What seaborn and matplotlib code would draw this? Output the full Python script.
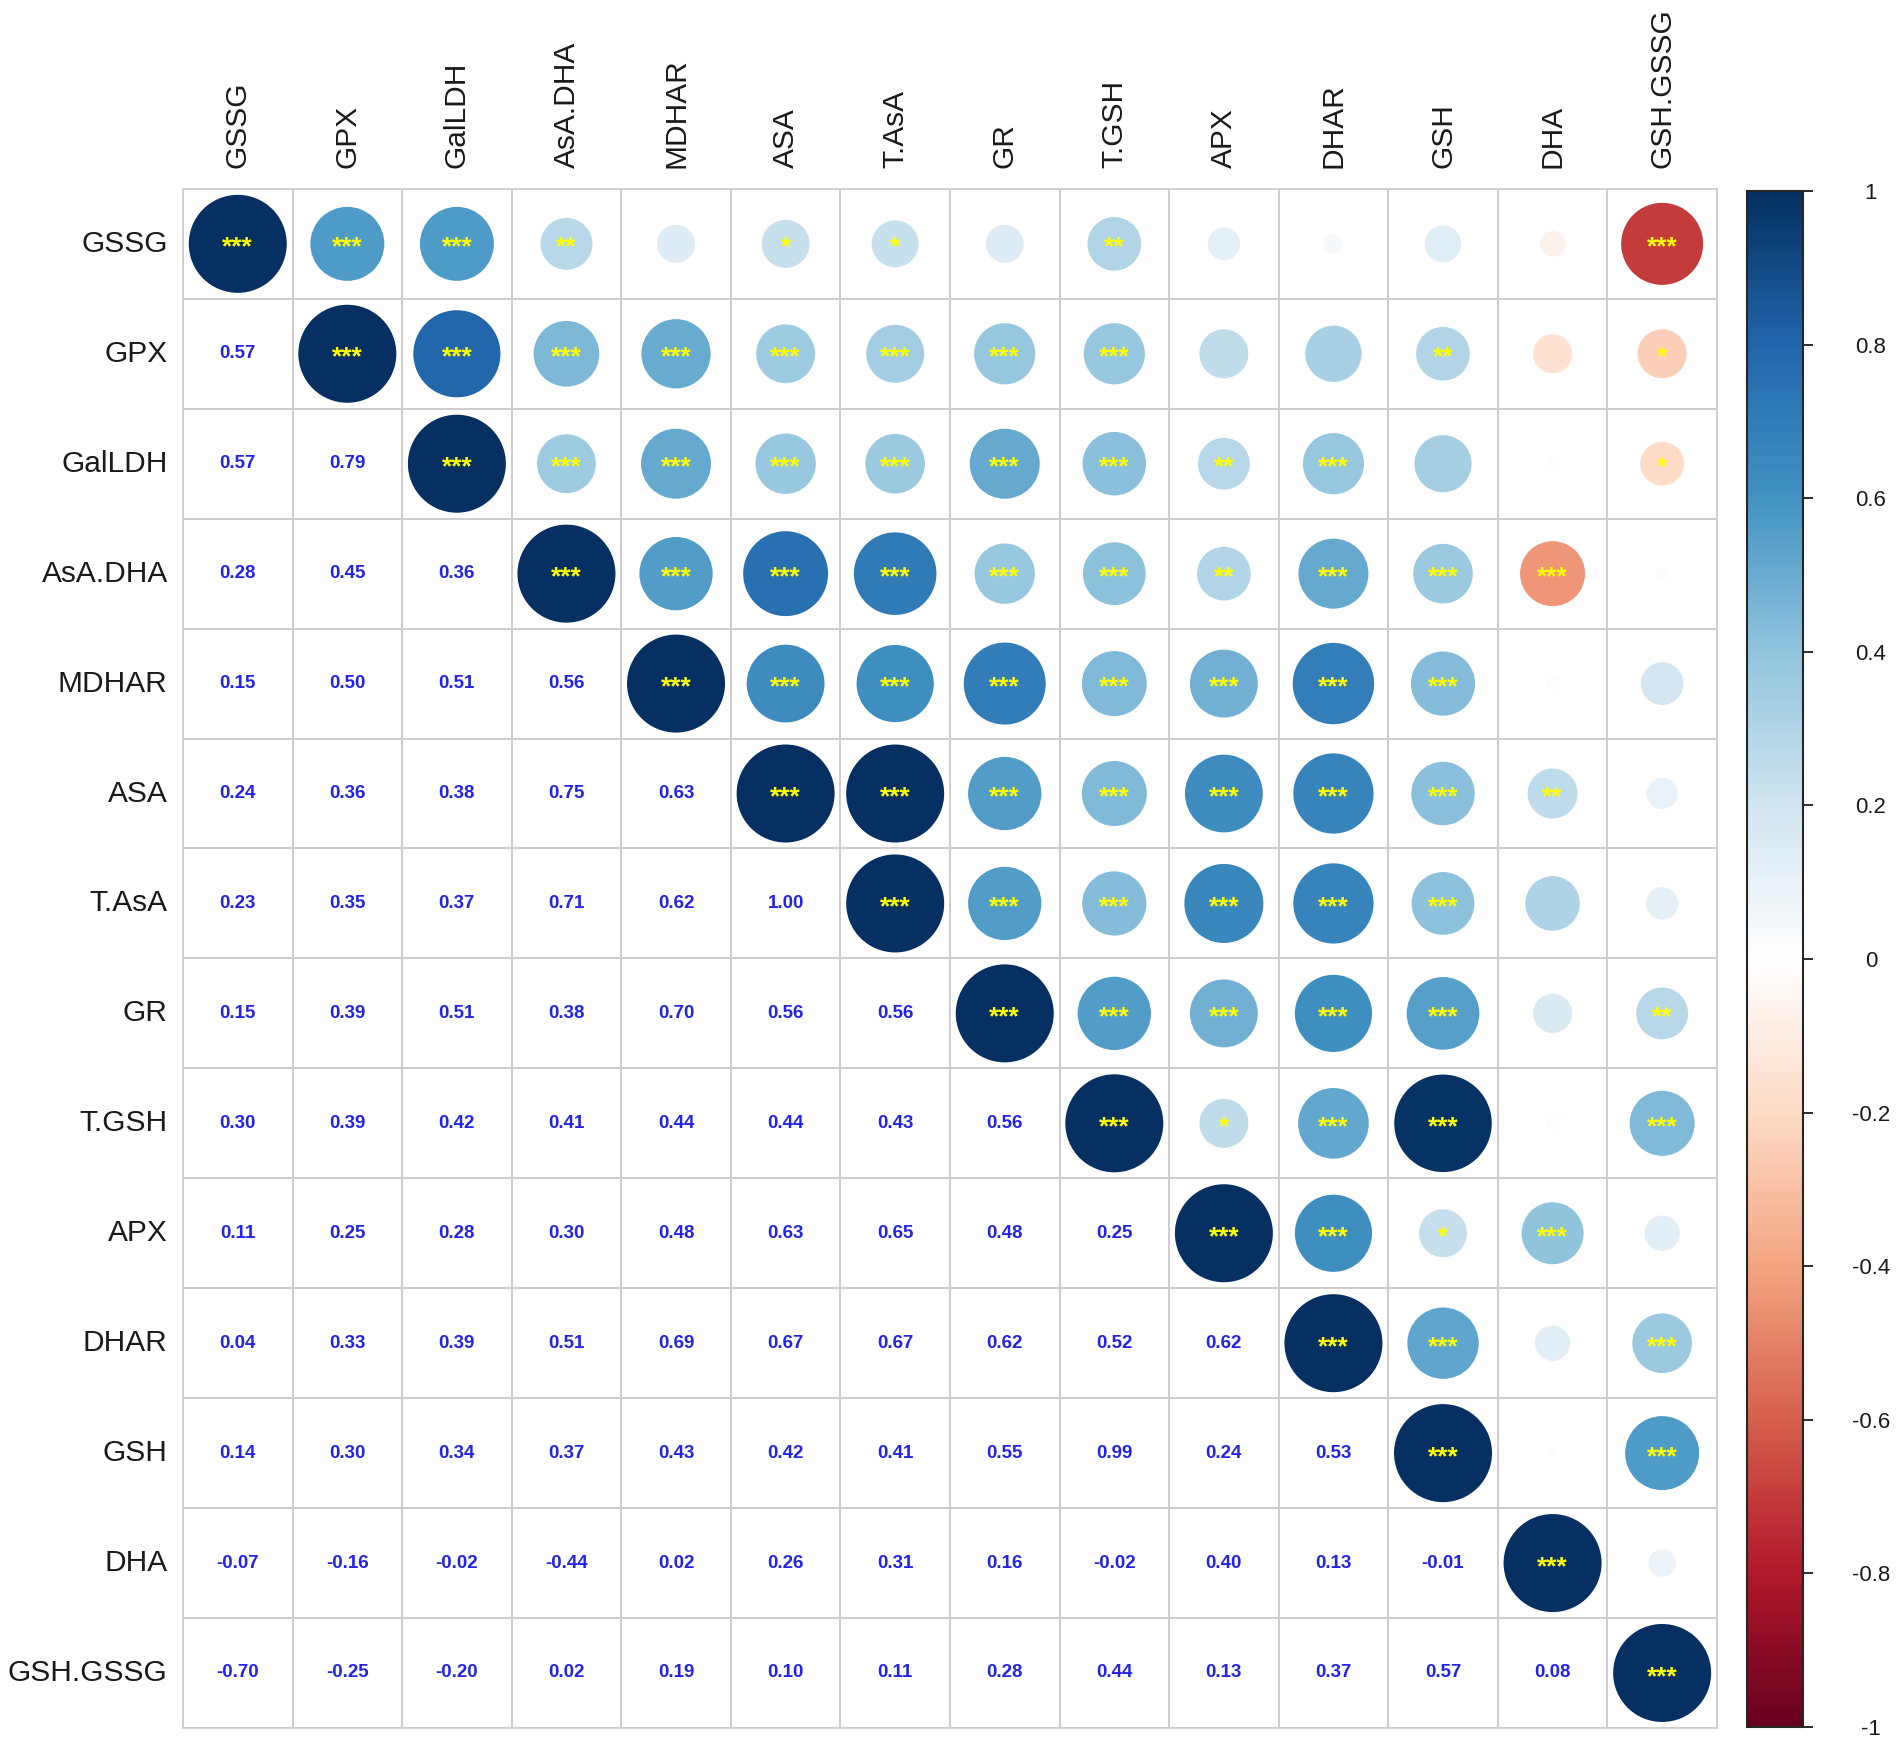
import numpy as np
import pandas as pd
import matplotlib
matplotlib.use("Agg")
import matplotlib.pyplot as plt
import seaborn as sns
from matplotlib.colors import LinearSegmentedColormap, Normalize

# ----------------------------
# Data
# ----------------------------
labels = ["GSSG", "GPX", "GalLDH", "AsA.DHA", "MDHAR", "ASA", "T.AsA",
          "GR", "T.GSH", "APX", "DHAR", "GSH", "DHA", "GSH.GSSG"]

# lower triangle, row i holds r(i, 0..i-1)
lower_r = [
    [],
    [0.57],
    [0.57, 0.79],
    [0.28, 0.45, 0.36],
    [0.15, 0.50, 0.51, 0.56],
    [0.24, 0.36, 0.38, 0.75, 0.63],
    [0.23, 0.35, 0.37, 0.71, 0.62, 1.00],
    [0.15, 0.39, 0.51, 0.38, 0.70, 0.56, 0.56],
    [0.30, 0.39, 0.42, 0.41, 0.44, 0.44, 0.43, 0.56],
    [0.11, 0.25, 0.28, 0.30, 0.48, 0.63, 0.65, 0.48, 0.25],
    [0.04, 0.33, 0.39, 0.51, 0.69, 0.67, 0.67, 0.62, 0.52, 0.62],
    [0.14, 0.30, 0.34, 0.37, 0.43, 0.42, 0.41, 0.55, 0.99, 0.24, 0.53],
    [-0.07, -0.16, -0.02, -0.44, 0.02, 0.26, 0.31, 0.16, -0.02, 0.40, 0.13, -0.01],
    [-0.70, -0.25, -0.20, 0.02, 0.19, 0.10, 0.11, 0.28, 0.44, 0.13, 0.37, 0.57, 0.08],
]

# significance marks, upper triangle, row i holds cols i+1..n-1
upper_stars = [
    ["***", "***", "**", "", "*", "*", "", "**", "", "", "", "", "***"],
    ["***", "***", "***", "***", "***", "***", "***", "", "", "**", "", "*"],
    ["***", "***", "***", "***", "***", "***", "**", "***", "", "", "*"],
    ["***", "***", "***", "***", "***", "**", "***", "***", "***", ""],
    ["***", "***", "***", "***", "***", "***", "***", "", ""],
    ["***", "***", "***", "***", "***", "***", "**", ""],
    ["***", "***", "***", "***", "***", "", ""],
    ["***", "***", "***", "***", "", "**"],
    ["*", "***", "***", "", "***"],
    ["***", "*", "***", ""],
    ["***", "", "***"],
    ["", "***"],
    [""],
    [],
]

cbar_ticks = [1, 0.8, 0.6, 0.4, 0.2, 0, -0.2, -0.4, -0.6, -0.8, -1]

# ----------------------------
# Build matrix / long tables
# ----------------------------
n = len(labels)
corr = np.eye(n)
for i, row in enumerate(lower_r):
    for j, v in enumerate(row):
        corr[i, j] = v
        corr[j, i] = v

up_rows, low_rows = [], []
for i in range(n):
    for j in range(n):
        if j >= i:
            star = "***" if j == i else upper_stars[i][j - i - 1]
            up_rows.append({"row": i, "col": j, "r": corr[i, j],
                            "absr": abs(corr[i, j]), "stars": star})
        else:
            low_rows.append({"row": i, "col": j, "r": corr[i, j]})
upper = pd.DataFrame(up_rows)
lower = pd.DataFrame(low_rows)
upper["xc"] = upper["col"] + 0.5
upper["yc"] = upper["row"] + 0.5
lower["xc"] = lower["col"] + 0.5
lower["yc"] = lower["row"] + 0.5

# corrplot-style RdBu palette
cmap = LinearSegmentedColormap.from_list("corrRdBu", [
    "#67001F", "#B2182B", "#D6604D", "#F4A582", "#FDDBC7", "#FFFFFF",
    "#D1E5F0", "#92C5DE", "#4393C3", "#2166AC", "#053061"])

# ----------------------------
# Plot
# ----------------------------
sns.set_style("white")
plt.rcParams["font.family"] = ["Liberation Sans", "DejaVu Sans"]

fig = plt.figure(figsize=(19.02, 17.44), dpi=100)
ax = fig.add_axes([0.0962, 0.0092, 0.8065, 0.8825])

# empty grid
sns.heatmap(np.zeros((n, n)), cmap=["white"], cbar=False, ax=ax,
            linewidths=1.2, linecolor="#cdcdcd",
            xticklabels=labels, yticklabels=labels)

# circles in upper triangle (area ~ |r|)
dmax = 98 * 0.72
sns.scatterplot(data=upper, x="xc", y="yc", hue="r", size="absr",
                palette=cmap, hue_norm=(-1, 1),
                sizes=(0, dmax ** 2), size_norm=(0, 1),
                linewidth=0, legend=False, ax=ax, zorder=3)

for _, rw in upper.iterrows():
    if rw["stars"]:
        ax.text(rw["xc"], rw["yc"] + 0.035, rw["stars"], ha="center", va="center",
                color="#ffff00", fontsize=19, fontweight="bold", zorder=4)

for _, rw in lower.iterrows():
    ax.text(rw["xc"], rw["yc"], f"{rw['r']:.2f}", ha="center", va="center",
            color="#2424e8", fontsize=13.5, fontweight="bold")

ax.set_xlim(0, n)
ax.set_ylim(n, 0)
ax.set_xlabel("")
ax.set_ylabel("")
ax.xaxis.tick_top()
ax.tick_params(axis="x", labelrotation=90, length=0, pad=15, labelsize=21.5,
               colors="#1a1a1a")
ax.tick_params(axis="y", labelrotation=0, length=0, pad=11, labelsize=21.5,
               colors="#1a1a1a")
for sp in ax.spines.values():
    sp.set_visible(True)
    sp.set_color("#cdcdcd")
    sp.set_linewidth(1.2)

# colorbar
cax = fig.add_axes([0.9185, 0.0098, 0.0294, 0.8807])
cb = matplotlib.colorbar.ColorbarBase(cax, cmap=cmap, norm=Normalize(-1, 1),
                                      ticks=cbar_ticks)
cb.set_ticklabels([f"{t:g}" for t in cbar_ticks])
cb.outline.set_linewidth(1.5)
cax.tick_params(axis="y", direction="out", length=7, width=1.3, pad=42,
                labelsize=16, colors="#1a1a1a")
for t in cax.get_yticklabels():
    t.set_ha("center")

fig.savefig("out.png", dpi=100)
